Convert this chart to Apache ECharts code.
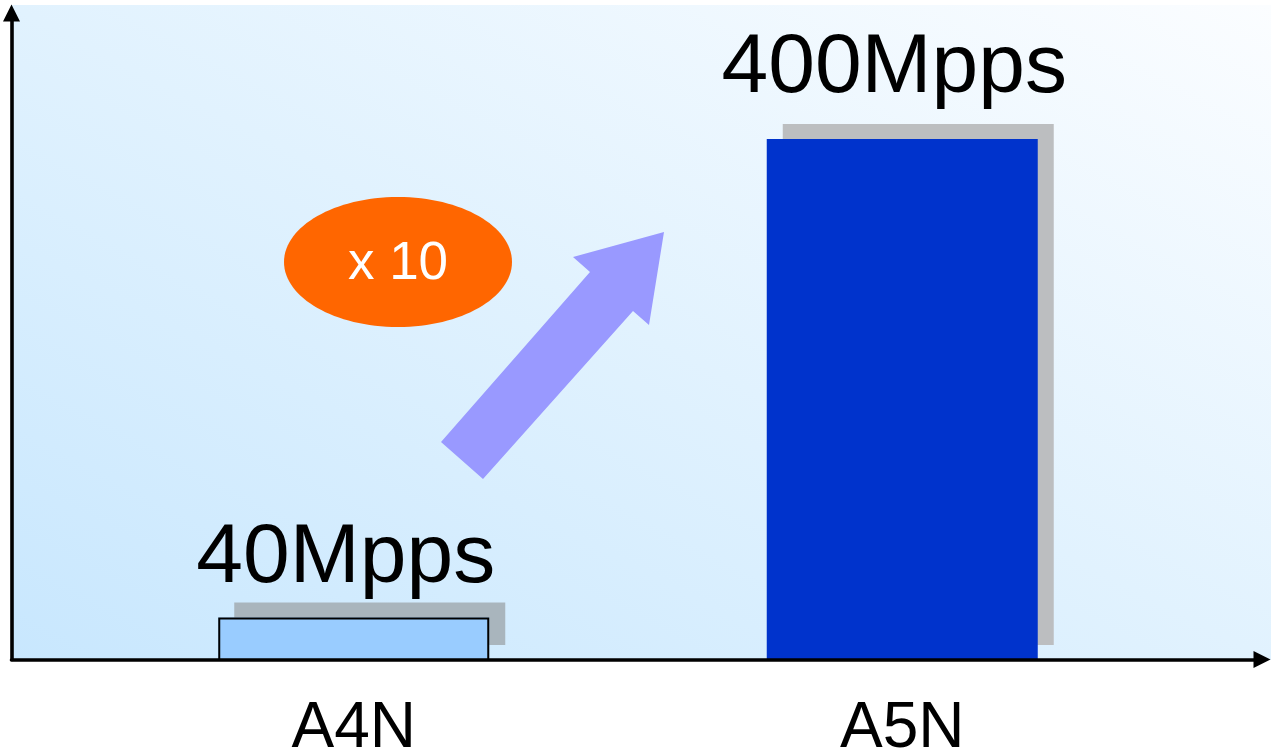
<!DOCTYPE html>
<html>
<head>
<meta charset="utf-8">
<script src="https://cdn.jsdelivr.net/npm/echarts@6/dist/echarts.min.js"></script>
<style>
  html, body { margin: 0; padding: 0; background: #ffffff; }
  #chart { width: 1271px; height: 756px; }
</style>
</head>
<body>
<div id="chart"></div>
<script>
// Packet throughput per generation (Mpps)
const categories = ['A4N', 'A5N'];
const throughput = [40, 400];
const speedupText = 'x 10';
const unitSuffix = 'Mpps';

// Per-bar styling
const barFills = ['#99ccff', '#0033cc'];
const barBorders = ['#000000', 'rgba(0,0,0,0)'];
const shadowFills = ['#a9b5bd', '#bcbec0'];
const labelGaps = [17, 28];

const FONT = '"Liberation Sans", Arial, Helvetica, sans-serif';
const VALUE_FLOOR = 8;

const chart = echarts.init(document.getElementById('chart'), null, { renderer: 'canvas' });

function arrowAxis(gridIndex) {
  return {
    gridIndex: gridIndex,
    type: 'value',
    min: 0,
    max: 1,
    z: 10,
    axisLine: {
      show: true,
      onZero: false,
      symbol: ['none', 'triangle'],
      symbolSize: [17, 17],
      lineStyle: { color: '#000000', width: 3.6 }
    },
    axisTick: { show: false },
    axisLabel: { show: false },
    splitLine: { show: false }
  };
}

const option = {
  animation: false,
  grid: [
    { left: 79.5, width: 1097, top: 139, bottom: 96, outerBoundsMode: 'none', containLabel: false },   // bars
    { left: 11.5, right: 9, top: 13, bottom: 96.5, outerBoundsMode: 'none', containLabel: false }     // framing axes with arrow heads
  ],
  xAxis: [
    {
      gridIndex: 0,
      type: 'category',
      data: categories,
      axisLine: { show: false },
      axisTick: { show: false },
      axisLabel: { fontSize: 64, margin: 37, color: '#000000', fontFamily: FONT }
    },
    arrowAxis(1)
  ],
  yAxis: [
    { gridIndex: 0, type: 'value', min: VALUE_FLOOR, max: Math.max(...throughput), show: false },
    arrowAxis(1)
  ],
  series: [
    {
      // filled bars casting a flat offset shadow
      type: 'bar',
      xAxisIndex: 0,
      yAxisIndex: 0,
      barWidth: 271,
      clip: true,
      z: 5,
      label: {
        show: true,
        position: 'top',
        formatter: (p) => p.value + unitSuffix,
        fontSize: 84,
        fontFamily: FONT,
        color: '#000000',
        offset: [-8, 0]
      },
      data: throughput.map((v, i) => ({
        value: v,
        itemStyle: {
          color: barFills[i],
          shadowColor: shadowFills[i],
          shadowOffsetX: 16,
          shadowOffsetY: -15,
          shadowBlur: 0
        },
        label: { distance: labelGaps[i] }
      }))
    },
    {
      // outlines drawn over the fills, without shadow
      type: 'bar',
      xAxisIndex: 0,
      yAxisIndex: 0,
      barWidth: 271,
      barGap: '-100%',
      clip: true,
      z: 6,
      silent: true,
      data: throughput.map((v, i) => ({
        value: v,
        itemStyle: {
          color: 'rgba(0,0,0,0)',
          borderColor: barBorders[i],
          borderWidth: 2
        }
      }))
    }
  ],
  graphic: [
    {
      type: 'rect', z: -10, silent: true,
      shape: { x: 11, y: 5, width: 1260, height: 655 },
      style: {
        fill: new echarts.graphic.LinearGradient(11, 660, 547, -371, [
          { offset: 0, color: '#c8e7fe' },
          { offset: 0.5, color: '#e1f2fe' },
          { offset: 1, color: '#fbfdff' }
        ], true)
      }
    },
    {
      type: 'polygon', z: 20,
      shape: { points: [[441, 442], [483, 479], [633, 311], [649, 325], [664, 232], [573, 257], [590, 272]] },
      style: { fill: '#9999ff' }
    },
    {
      type: 'ellipse', z: 20,
      shape: { cx: 398, cy: 262, rx: 114, ry: 65 },
      style: { fill: '#ff6600' }
    },
    {
      type: 'text', z: 21,
      x: 398, y: 264,
      style: {
        text: speedupText,
        fill: '#ffffff',
        fontSize: 53,
        fontFamily: FONT,
        textAlign: 'center',
        textVerticalAlign: 'middle'
      }
    }
  ]
};

chart.setOption(option);
</script>
</body>
</html>
